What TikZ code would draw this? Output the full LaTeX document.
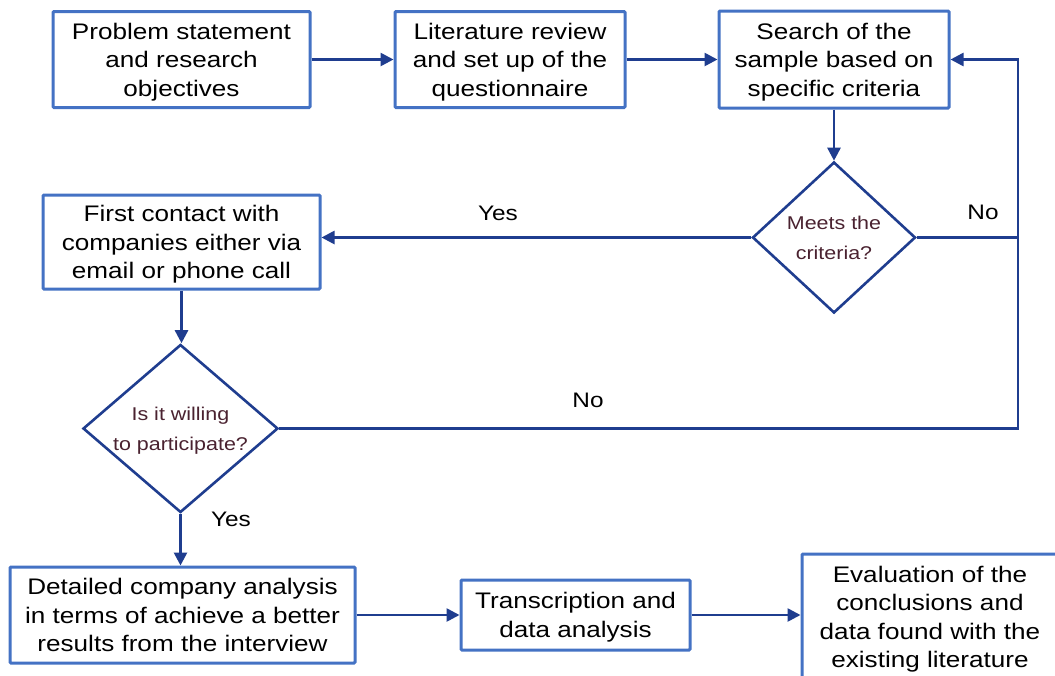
\documentclass[tikz,border=0pt]{standalone}
\usepackage{fontspec}
\setmainfont{Liberation Sans}[FakeStretch=1.16]
\usetikzlibrary{shapes.geometric,arrows.meta}

\definecolor{boxblue}{HTML}{4472C4}
\definecolor{linkblue}{HTML}{1F3D8F}
\definecolor{asktext}{HTML}{4A2230}

\tikzset{
  stepbox/.style={draw=boxblue, line width=3pt, rounded corners=1pt,
    align=center, inner sep=2pt, text depth=4pt,
    font=\fontsize{22.5}{28.5}\selectfont},
  lines/.style={text height={(#1-1)*28.5pt+20pt}},
  askbox/.style={diamond, draw=linkblue, line width=2.6pt, align=center,
    inner sep=-20pt, text=asktext, text height=47pt, text depth=3.6pt,
    font=\fontsize{18.5}{30}\selectfont},
  link/.style={draw=linkblue, line width=2.6pt},
  flow/.style={link, -{Triangle[length=13pt,width=13pt]}},
  tag/.style={font=\fontsize{21}{25}\selectfont}
}

\begin{document}
\begin{tikzpicture}[x=1pt, y=-1pt]
\clip (0,0) rectangle (1055,675);
\fill[white] (0,0) rectangle (1055,675);

% process boxes
\node[stepbox, lines=3, minimum width=257pt, minimum height=96pt] (b1) at (181.5,59.5)
  {Problem statement\\and research\\objectives};
\node[stepbox, lines=3, minimum width=230pt, minimum height=96pt] (b2) at (510,59.5)
  {Literature review\\and set up of the\\questionnaire};
\node[stepbox, lines=3, minimum width=230pt, minimum height=97pt] (b3) at (834,59.5)
  {Search of the\\sample based on\\specific criteria};
\node[stepbox, lines=3, minimum width=277pt, minimum height=94pt] (b4) at (181.5,242)
  {First contact with\\companies either via\\email or phone call};
\node[stepbox, lines=3, minimum width=345pt, minimum height=96pt] (b5) at (182.5,615)
  {Detailed company analysis\\in terms of achieve a better\\results from the interview};
\node[stepbox, lines=2, minimum width=229pt, minimum height=70pt] (b6) at (575.5,615)
  {Transcription and\\data analysis};
\node[stepbox, lines=4, minimum width=256pt, minimum height=126pt] (b7) at (930,617)
  {Evaluation of the\\conclusions and\\data found with the\\existing literature};

% decisions
\node[askbox, minimum width=163pt, minimum height=151pt] (d1) at (834,237.5)
  {Meets the\\criteria?};
\node[askbox, minimum width=195pt, minimum height=168pt] (d2) at (180.5,428.5)
  {Is it willing\\to participate?};

% return path on the right
\coordinate (rr) at (1018,59.5);

% connectors
\draw[flow] (b1.east) -- (b1.east -| b2.west);
\draw[flow] (b2.east) -- (b2.east -| b3.west);
\draw[flow] (b3.south) -- (d1.north);
\draw[flow] (d1.west) -- (d1.west -| b4.east);
\draw[link] (d1.east) -- (d1.east -| rr);
\draw[flow] (d2.east) -| (rr) -- (b3.east);
\draw[flow] (b4.south) -- (b4.south |- d2.north);
\draw[flow] (d2.south) -- (d2.south |- b5.north);
\draw[flow] (b5.east) -- (b5.east -| b6.west);
\draw[flow] (b6.east) -- (b6.east -| b7.west);

% branch labels
\node[tag] (yes1) at (498,213) {Yes};
\node[tag] (no1) at (983,212) {No};
\node[tag] (no2) at (588,400) {No};
\node[tag] (yes2) at (231,519) {Yes};
\end{tikzpicture}
\end{document}
